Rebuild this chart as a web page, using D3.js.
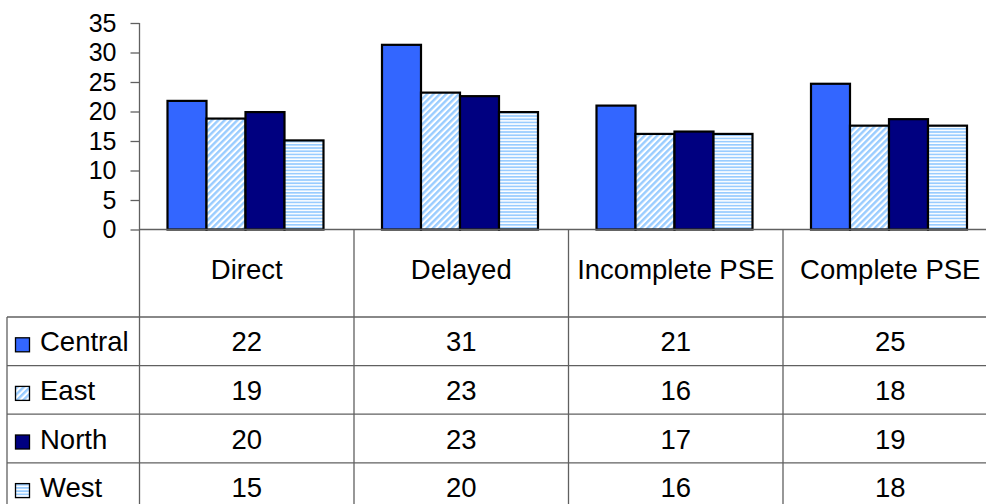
<!DOCTYPE html>
<html>
<head>
<meta charset="utf-8">
<script src="https://cdn.jsdelivr.net/npm/d3@7/dist/d3.min.js"></script>
<style>
  html, body { margin: 0; padding: 0; background: #fff; }
  svg { display: block; font-family: "Liberation Sans", Arial, sans-serif; }
</style>
</head>
<body>
<svg id="chart" width="986" height="504"></svg>
<script>
// ---- data ----
const categories = ["Direct", "Delayed", "Incomplete PSE", "Complete PSE"];
const seriesNames = ["Central", "East", "North", "West"];
const central = [21.8, 31.3, 21.0, 24.7];
const east    = [18.8, 23.2, 16.2, 17.6];
const north   = [19.9, 22.6, 16.6, 18.7];
const west    = [15.1, 19.9, 16.2, 17.6];
const yTicks  = [0, 5, 10, 15, 20, 25, 30, 35];

const seriesValues = [central, east, north, west];

// ---- layout ----
const W = 986, H = 504;
const axisX = 139.5, baseY = 229.5, topY = 23;
const bandW = 214.5;
const gridColor = "#606060";
const tableFont = 27.5;

const svg = d3.select("#chart");
const defs = svg.append("defs");

// patterns
const diag = defs.append("pattern")
  .attr("id", "diag").attr("patternUnits", "userSpaceOnUse")
  .attr("width", 4.5).attr("height", 4.5)
  .attr("patternTransform", "rotate(45)");
diag.append("rect").attr("width", 4.5).attr("height", 4.5).attr("fill", "#ffffff");
diag.append("rect").attr("width", 2.4).attr("height", 4.5).attr("fill", "#99ccff");

const horiz = defs.append("pattern")
  .attr("id", "horiz").attr("patternUnits", "userSpaceOnUse")
  .attr("width", 6).attr("height", 3.2);
horiz.append("rect").attr("width", 6).attr("height", 3.2).attr("fill", "#ffffff");
horiz.append("rect").attr("width", 6).attr("height", 1.7).attr("fill", "#99ccff");

const fills = {
  Central: "#3366ff",
  East: "url(#diag)",
  North: "#000080",
  West: "url(#horiz)"
};

// scales
const x0 = d3.scaleBand().domain(categories)
  .range([axisX, axisX + bandW * categories.length]).padding(0);
const x1 = d3.scaleBand().domain(seriesNames).range([28, 184]).padding(0);
const y = d3.scaleLinear().domain([0, 35]).range([baseY, topY]);
const rowY = d3.scaleBand().domain(seriesNames).range([317, 317 + 48.6 * 4]).padding(0);

// bars
const groups = svg.append("g").selectAll("g")
  .data(categories).join("g")
  .attr("transform", d => `translate(${x0(d)},0)`);

groups.selectAll("rect")
  .data((c, ci) => seriesNames.map((s, si) => ({ s, v: seriesValues[si][ci] })))
  .join("rect")
  .attr("x", d => x1(d.s))
  .attr("width", x1.bandwidth())
  .attr("y", d => y(d.v))
  .attr("height", d => y(0) - y(d.v))
  .attr("fill", d => fills[d.s])
  .attr("stroke", "#000")
  .attr("stroke-width", 2.2);

// y axis
const yAxis = d3.axisLeft(y).tickValues(yTicks).tickSize(9).tickPadding(14);
const yg = svg.append("g").attr("transform", `translate(${axisX},0)`).call(yAxis);
yg.select(".domain").remove();
yg.selectAll(".tick line").attr("stroke", gridColor).attr("stroke-width", 1.3);
yg.selectAll(".tick text")
  .attr("font-size", 25)
  .attr("font-family", "Liberation Sans, Arial, sans-serif")
  .attr("fill", "#000");

const lines = svg.append("g").attr("stroke", gridColor).attr("stroke-width", 1.3).attr("fill", "none");

// y axis line extends through table
lines.append("line").attr("x1", axisX).attr("x2", axisX).attr("y1", topY).attr("y2", H);
// baseline
lines.append("line").attr("x1", axisX).attr("x2", W).attr("y1", baseY).attr("y2", baseY);
// category dividers
categories.slice(1).forEach(c => {
  lines.append("line").attr("x1", x0(c)).attr("x2", x0(c)).attr("y1", baseY).attr("y2", H);
});
// row lines
seriesNames.forEach(s => {
  lines.append("line").attr("x1", 7).attr("x2", W).attr("y1", rowY(s)).attr("y2", rowY(s));
});
// legend column left border
lines.append("line").attr("x1", 7).attr("x2", 7).attr("y1", rowY(seriesNames[0])).attr("y2", H);

// header labels
svg.append("g").selectAll("text")
  .data(categories).join("text")
  .attr("x", d => x0(d) + x0.bandwidth() / 2)
  .attr("y", 278.5)
  .attr("text-anchor", "middle")
  .attr("font-size", tableFont)
  .attr("fill", "#000")
  .text(d => d);

// legend column
const leg = svg.append("g").selectAll("g")
  .data(seriesNames).join("g")
  .attr("transform", d => `translate(0,${rowY(d) + rowY.bandwidth() / 2})`);
leg.append("rect")
  .attr("x", 15.5).attr("y", -3.5).attr("width", 14).attr("height", 14)
  .attr("fill", d => fills[d]).attr("stroke", "#000").attr("stroke-width", 1.3);
leg.append("text")
  .attr("x", 40).attr("y", 10)
  .attr("font-size", tableFont).attr("fill", "#000")
  .text(d => d);

// table values
seriesNames.forEach((s, si) => {
  svg.append("g").selectAll("text")
    .data(categories).join("text")
    .attr("x", d => x0(d) + x0.bandwidth() / 2)
    .attr("y", rowY(s) + rowY.bandwidth() / 2 + 10)
    .attr("text-anchor", "middle")
    .attr("font-size", tableFont)
    .attr("fill", "#000")
    .text((d, ci) => Math.round(seriesValues[si][ci]));
});
</script>
</body>
</html>
